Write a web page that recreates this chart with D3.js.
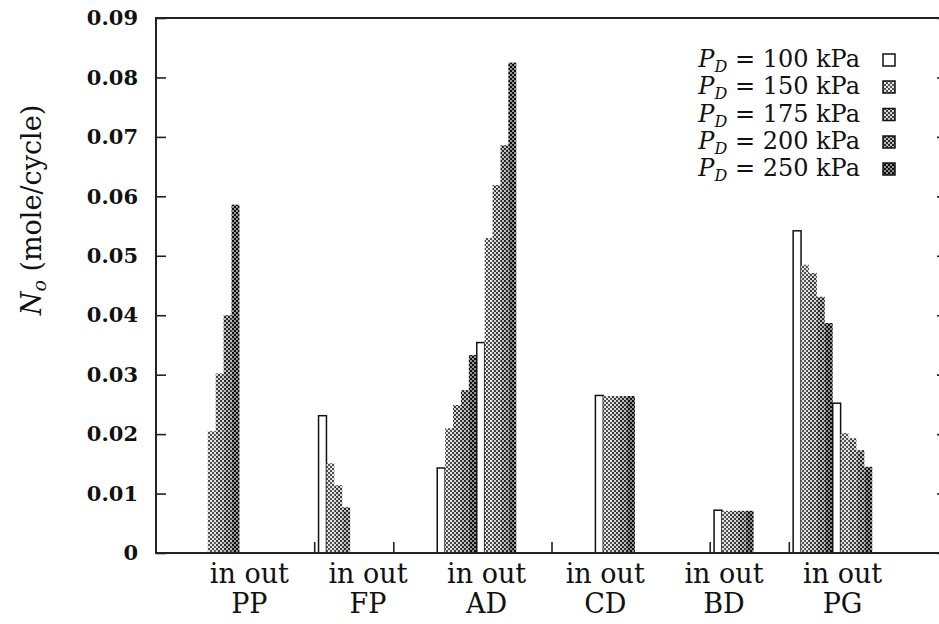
<!DOCTYPE html>
<html>
<head>
<script src="https://d3js.org/d3.v7.min.js"></script>
<style>
  body { margin: 0; background: #fff; }
</style>
</head>
<body>
<div id="chart"></div>
<script>
// data (mole/cycle)
var categories = ["PP", "FP", "AD", "CD", "BD", "PG"];
var pressures = ["100", "150", "175", "200", "250"];
var sides = ["in", "out"];

var in100 = [0, 0.0231, 0.0143, 0, 0, 0.0542];
var in150 = [0.0205, 0.0151, 0.0210, 0, 0, 0.0485];
var in175 = [0.0302, 0.0114, 0.0249, 0, 0, 0.0471];
var in200 = [0.0400, 0.0077, 0.0274, 0, 0, 0.0431];
var in250 = [0.0586, 0, 0.0333, 0, 0, 0.0387];

var out100 = [0, 0, 0.0354, 0.0265, 0.0072, 0.0252];
var out150 = [0, 0, 0.0530, 0.0264, 0.0071, 0.0202];
var out175 = [0, 0, 0.0619, 0.0264, 0.0071, 0.0193];
var out200 = [0, 0, 0.0686, 0.0264, 0.0071, 0.0173];
var out250 = [0, 0, 0.0825, 0.0264, 0.0071, 0.0145];

var yTicks = [0, 0.01, 0.02, 0.03, 0.04, 0.05, 0.06, 0.07, 0.08, 0.09];
var yTickLabels = ["0", "0.01", "0.02", "0.03", "0.04", "0.05", "0.06", "0.07", "0.08", "0.09"];
var xTicks = [1, 2, 3, 4, 5, 6, 7, 8, 9];

var inSeries = [in100, in150, in175, in200, in250];
var outSeries = [out100, out150, out175, out200, out250];

var width = 939, height = 624;
var plotL = 156, plotR = 947, plotT = 18, plotB = 553;

var svg = d3.select("#chart").append("svg")
    .attr("width", width)
    .attr("height", height)
    .style("font-family", "'DejaVu Serif', serif");

svg.append("rect").attr("width", width).attr("height", height).attr("fill", "#fff");

// halftone-like fills, one per pressure (100 kPa stays empty)
var shades = [null,
    {light: "#e6e6e6", dark: "#505050"},
    {light: "#d8d8d8", dark: "#3c3c3c"},
    {light: "#bdbdbd", dark: "#282828"},
    {light: "#939393", dark: "#101010"}];

var defs = svg.append("defs");
shades.forEach(function(s, i) {
    if (!s) return;
    var p = defs.append("pattern")
        .attr("id", "pat" + i)
        .attr("patternUnits", "userSpaceOnUse")
        .attr("width", 4).attr("height", 4);
    p.append("rect").attr("width", 4).attr("height", 4).attr("fill", s.light);
    p.append("rect").attr("x", 0).attr("y", 0).attr("width", 2).attr("height", 2).attr("fill", s.dark);
    p.append("rect").attr("x", 2).attr("y", 2).attr("width", 2).attr("height", 2).attr("fill", s.dark);
});

function fillFor(i) { return i === 0 ? "#fff" : "url(#pat" + i + ")"; }

var x = d3.scaleLinear().domain([0, 10]).range([plotL, plotR]);
var y = d3.scaleLinear().domain([0, 0.09]).range([plotB, plotT]);

// axes, ticks pointing inward
var yAxis = svg.append("g")
    .attr("transform", "translate(" + plotL + ",0)")
    .call(d3.axisLeft(y).tickValues(yTicks).tickSize(-10).tickPadding(18)
        .tickFormat(function(d, i) { return yTickLabels[i]; }));
yAxis.select(".domain").remove();
yAxis.selectAll("line").attr("stroke", "#222").attr("stroke-width", 1.6);
yAxis.selectAll("text")
    .style("font-family", "'DejaVu Serif', serif")
    .style("font-size", "21px")
    .style("font-weight", "bold")
    .attr("fill", "#111");

var yAxisR = svg.append("g")
    .attr("transform", "translate(" + plotR + ",0)")
    .call(d3.axisRight(y).tickValues(yTicks).tickSize(-10).tickFormat(""));
yAxisR.select(".domain").remove();
yAxisR.selectAll("line").attr("stroke", "#222").attr("stroke-width", 1.6);

var xAxis = svg.append("g")
    .attr("transform", "translate(0," + plotB + ")")
    .call(d3.axisBottom(x).tickValues(xTicks).tickSize(-11).tickFormat(""));
xAxis.select(".domain").remove();
xAxis.selectAll("line").attr("stroke", "#222").attr("stroke-width", 1.6);

// bars
var barW = 0.1;
var bars = [];
categories.forEach(function(c, ci) {
    [inSeries, outSeries].forEach(function(series, si) {
        series.forEach(function(vals, pi) {
            var v = vals[ci];
            if (v > 0) bars.push({cat: ci, side: si, p: pi, v: v,
                x0: 0.555 + 1.5 * ci + si * 0.5 + pi * barW});
        });
    });
});

svg.append("g").selectAll("rect")
    .data(bars)
    .enter()
    .append("rect")
    .attr("x", function(d) { return x(d.x0); })
    .attr("y", function(d) { return y(d.v); })
    .attr("width", x(barW) - x(0))
    .attr("height", function(d) { return y(0) - y(d.v); })
    .attr("fill", function(d) { return fillFor(d.p); })
    .attr("stroke", function(d) { return d.p === 0 ? "#111" : "none"; })
    .attr("stroke-width", 1.5);

// frame
svg.append("rect")
    .attr("x", plotL).attr("y", plotT)
    .attr("width", plotR - plotL).attr("height", plotB - plotT)
    .attr("fill", "none").attr("stroke", "#222").attr("stroke-width", 2);

// category labels
svg.append("g").selectAll("text")
    .data(categories)
    .enter()
    .append("text")
    .attr("x", function(d, i) { return x(1.18 + 1.5 * i); })
    .attr("y", 583)
    .attr("text-anchor", "middle")
    .style("font-size", "27px")
    .attr("fill", "#111")
    .text(sides.join(" "));

svg.append("g").selectAll("text")
    .data(categories)
    .enter()
    .append("text")
    .attr("x", function(d, i) { return x(1.18 + 1.5 * i); })
    .attr("y", 613)
    .attr("text-anchor", "middle")
    .style("font-size", "27px")
    .attr("fill", "#111")
    .text(function(d) { return d; });

// y title
var title = svg.append("text")
    .attr("transform", "translate(41,210) rotate(-90)")
    .attr("text-anchor", "middle")
    .style("font-size", "27px")
    .attr("fill", "#111");
title.append("tspan").style("font-style", "italic").text("N");
title.append("tspan").style("font-style", "italic").style("font-size", "19px").attr("dy", 5).text("o");
title.append("tspan").attr("dy", -5).text(" (mole/cycle)");

// legend
var legendY = [67, 94, 121.5, 149, 176];
var legend = svg.append("g");
pressures.forEach(function(p, i) {
    var t = legend.append("text")
        .attr("x", 860).attr("y", legendY[i])
        .attr("text-anchor", "end")
        .style("font-size", "24px")
        .attr("fill", "#111");
    t.append("tspan").style("font-style", "italic").text("P");
    t.append("tspan").style("font-style", "italic").style("font-size", "16px").attr("dy", 5).text("D");
    t.append("tspan").attr("dy", -5).text(" = " + p + " kPa");
    legend.append("rect")
        .attr("x", 883).attr("y", legendY[i] - 13)
        .attr("width", 12).attr("height", 12)
        .attr("fill", fillFor(i))
        .attr("stroke", "#111").attr("stroke-width", 1.5);
});
</script>
</body>
</html>
